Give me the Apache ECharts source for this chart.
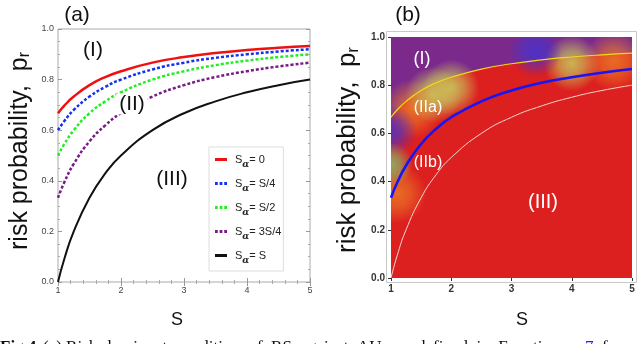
<!DOCTYPE html>
<html>
<head>
<meta charset="utf-8">
<script src="https://cdn.jsdelivr.net/npm/echarts@6/dist/echarts.min.js"></script>
<style>
  html, body { margin: 0; padding: 0; background: #fff; }
  #chart { width: 640px; height: 344px; }
</style>
</head>
<body>
<div id="chart"></div>
<script>
var sVals = [1, 1.1, 1.25, 1.5, 1.75, 2, 2.5, 3, 3.5, 4, 4.5, 5];
// risk probability p_r for each S_alpha
var prZero    = [0.667, 0.697, 0.733, 0.778, 0.810, 0.833, 0.867, 0.889, 0.905, 0.917, 0.926, 0.933];
var prQuarter = [0.600, 0.636, 0.680, 0.733, 0.771, 0.800, 0.840, 0.867, 0.886, 0.900, 0.911, 0.920];
var prHalf    = [0.500, 0.545, 0.600, 0.667, 0.714, 0.750, 0.800, 0.833, 0.857, 0.875, 0.889, 0.900];
var prThree   = [0.333, 0.394, 0.467, 0.556, 0.619, 0.667, 0.733, 0.778, 0.810, 0.833, 0.852, 0.867];
var prFull    = [0.000, 0.091, 0.200, 0.333, 0.429, 0.500, 0.600, 0.667, 0.714, 0.750, 0.778, 0.800];

var xTicks = ['1', '2', '3', '4', '5'];
var yTicks = ['0.0', '0.2', '0.4', '0.6', '0.8', '1.0'];

var legendNames = ['0', 'S/4', 'S/2', '3S/4', 'S'];

// soft colour patches of panel (b), [S, p_r]
var blobYellow = [[2.0, 0.79], [4.0, 0.89], [1.7, 0.76]];
var blobBlue   = [[3.4, 0.94], [1.0, 0.61]];
var blobGreen  = [[1.0, 0.47]];
var blobOrange = [[1.1, 0.35], [1.35, 0.7], [4.7, 0.9]];

function pairs(ys) {
    return sVals.map(function (s, i) { return [s, ys[i]]; });
}
function blobFill(c, a) {
    return {
        type: 'radial', x: 0.5, y: 0.5, r: 0.5,
        colorStops: [
            {offset: 0, color: 'rgba(' + c + ',' + a + ')'},
            {offset: 0.45, color: 'rgba(' + c + ',' + (a * 0.7) + ')'},
            {offset: 1, color: 'rgba(' + c + ',0)'}
        ]
    };
}
// blobs as a clipped custom series so they stay inside the plot
function blobSeries(name, data, c, a, r) {
    return {
        name: name, type: 'custom', xAxisIndex: 2, yAxisIndex: 2, data: data, clip: true, z: 2, silent: true,
        renderItem: function (params, api) {
            var p = api.coord([api.value(0), api.value(1)]);
            return {type: 'circle', shape: {cx: p[0], cy: p[1], r: r}, style: {fill: blobFill(c, a)}};
        }
    };
}
function xLabel(v) { return xTicks[Math.round(v) - 1]; }
function yLabel(v) { return yTicks[Math.round(v / 0.2)]; }

var chart = echarts.init(document.getElementById('chart'));

var axA = {
    min: 1, max: 5, interval: 1,
    axisLine: {show: false},
    axisTick: {inside: true, length: 4, lineStyle: {color: '#999'}},
    minorTick: {show: true, splitNumber: 5, length: 2, lineStyle: {color: '#aaa'}},
    splitLine: {show: false},
    axisLabel: {fontSize: 9, color: '#444', margin: 4, formatter: xLabel}
};
var ayA = {
    min: 0, max: 1, interval: 0.2,
    axisLine: {show: false},
    axisTick: {inside: true, length: 4, lineStyle: {color: '#999'}},
    minorTick: {show: true, splitNumber: 4, length: 2, lineStyle: {color: '#aaa'}},
    splitLine: {show: false},
    axisLabel: {fontSize: 9, color: '#444', margin: 4, formatter: yLabel}
};

var dashIcon = 'path://M0,0h3v3h-3zM5,0h3v3h-3zM10,0h3v3h-3z';

var option = {
    animation: false,
    textStyle: {fontFamily: 'Liberation Sans'},
    grid: [
        {left: 58, right: 330, top: 29, bottom: 62, show: true, borderColor: '#aaa', borderWidth: 1},
        {left: 391, right: 8, top: 37, bottom: 66, show: true, backgroundColor: '#dc1f1f', borderWidth: 0}
    ],
    xAxis: [
        echarts.util.merge({type: 'value', gridIndex: 0, position: 'bottom'}, axA, true),
        echarts.util.merge({type: 'value', gridIndex: 0, position: 'top'}, echarts.util.merge({axisLabel: {show: false}}, axA), true),
        {type: 'value', gridIndex: 1, min: 1, max: 5, interval: 1,
         axisLine: {show: false},
         axisTick: {length: 3, lineStyle: {color: '#333'}},
         splitLine: {show: false},
         axisLabel: {fontSize: 10, fontWeight: 'bold', color: '#333', margin: 6, formatter: xLabel}}
    ],
    yAxis: [
        echarts.util.merge({type: 'value', gridIndex: 0, position: 'left'}, ayA, true),
        echarts.util.merge({type: 'value', gridIndex: 0, position: 'right'}, echarts.util.merge({axisLabel: {show: false}}, ayA), true),
        {type: 'value', gridIndex: 1, min: 0, max: 1, interval: 0.2,
         axisLine: {show: false},
         axisTick: {length: 3, lineStyle: {color: '#333'}},
         splitLine: {show: false},
         axisLabel: {fontSize: 10, fontWeight: 'bold', color: '#333', margin: 6, formatter: yLabel}}
    ],
    legend: {
        left: 209, top: 147, orient: 'vertical',
        padding: [7, 2, 6, 6], itemGap: 9,
        itemWidth: 12, itemHeight: 3,
        borderColor: '#ddd', borderWidth: 1,
        data: [
            {name: '0', icon: 'rect'},
            {name: 'S/4', icon: dashIcon},
            {name: 'S/2', icon: dashIcon},
            {name: '3S/4', icon: dashIcon},
            {name: 'S', icon: 'rect'}
        ],
        formatter: function (n) { return '{s|S}{a|α}{s|= ' + n + '}'; },
        textStyle: {
            padding: [0, 0, 0, 3],
            rich: {
                s: {fontSize: 11, color: '#222', fontFamily: 'Liberation Sans'},
                a: {fontSize: 9, color: '#222', fontWeight: 'bold', fontStyle: 'italic', padding: [10, 0, 0, 0], fontFamily: 'DejaVu Serif'}
            }
        }
    },
    series: [
        {name: '0', type: 'line', xAxisIndex: 0, yAxisIndex: 0, data: pairs(prZero), smooth: true, symbol: 'none',
         color: '#ee1111', lineStyle: {width: 2.5}},
        {name: 'S/4', type: 'line', xAxisIndex: 0, yAxisIndex: 0, data: pairs(prQuarter), smooth: true, symbol: 'none',
         color: '#1530ee', lineStyle: {width: 2.5, type: [3, 2]}},
        {name: 'S/2', type: 'line', xAxisIndex: 0, yAxisIndex: 0, data: pairs(prHalf), smooth: true, symbol: 'none',
         color: '#22ee22', lineStyle: {width: 2.5, type: [3, 2]}},
        {name: '3S/4', type: 'line', xAxisIndex: 0, yAxisIndex: 0, data: pairs(prThree), smooth: true, symbol: 'none',
         color: '#7a1a86', lineStyle: {width: 2.5, type: [3, 2]}},
        {name: 'S', type: 'line', xAxisIndex: 0, yAxisIndex: 0, data: pairs(prFull), smooth: true, symbol: 'none',
         color: '#111', lineStyle: {width: 2}},

        // panel (b): purple region above the S_alpha = 0 boundary
        {name: 'regionI', type: 'line', xAxisIndex: 2, yAxisIndex: 2, data: pairs(prZero), smooth: true, symbol: 'none',
         lineStyle: {width: 0}, areaStyle: {origin: 'end', color: '#7b2a8c', opacity: 1}, z: 1},
        blobSeries('orange', blobOrange, '235,125,40', 0.8, 30),
        blobSeries('yellow', blobYellow, '200,195,90', 0.9, 28),
        blobSeries('blue', blobBlue, '70,50,205', 0.85, 26),
        blobSeries('green', blobGreen, '140,175,100', 0.95, 22),
        {name: 'yellowLine', type: 'line', xAxisIndex: 2, yAxisIndex: 2, data: pairs(prZero), smooth: true, symbol: 'none',
         color: '#f0d81a', lineStyle: {width: 1.2}, z: 3},
        {name: 'blueLine', type: 'line', xAxisIndex: 2, yAxisIndex: 2, data: pairs(prThree), smooth: true, symbol: 'none',
         color: '#1515f5', lineStyle: {width: 2.6}, z: 3},
        {name: 'whiteLine', type: 'line', xAxisIndex: 2, yAxisIndex: 2, data: pairs(prFull), smooth: true, symbol: 'none',
         color: '#f4d6d0', lineStyle: {width: 1}, z: 3}
    ],
    graphic: [
        {type: 'rect', shape: {x: 386.5, y: 31.5, width: 250, height: 251}, style: {fill: 'none', stroke: '#c8c8c8', lineWidth: 1}, z: 0},
        {type: 'text', x: 77, y: 15, style: {text: '(a)', fontSize: 21, fill: '#111', align: 'center', verticalAlign: 'middle'}},
        {type: 'text', x: 408, y: 15, style: {text: '(b)', fontSize: 21, fill: '#111', align: 'center', verticalAlign: 'middle'}},
        {type: 'text', x: 20, y: 151, rotation: Math.PI / 2,
         style: {text: '{m|risk probability,  p}{r|r}', align: 'center', verticalAlign: 'middle',
                 rich: {m: {fontSize: 25, fill: '#111'}, r: {fontSize: 16, fill: '#111', padding: [10, 0, 0, 0]}}}},
        {type: 'text', x: 348, y: 150, rotation: Math.PI / 2,
         style: {text: '{m|risk probability,  p}{r|r}', align: 'center', verticalAlign: 'middle',
                 rich: {m: {fontSize: 26, fill: '#111'}, r: {fontSize: 17, fill: '#111', padding: [10, 0, 0, 0]}}}},
        {type: 'text', x: 177, y: 320, style: {text: 'S', fontSize: 18, fill: '#111', align: 'center', verticalAlign: 'middle'}},
        {type: 'text', x: 522, y: 320, style: {text: 'S', fontSize: 18, fill: '#111', align: 'center', verticalAlign: 'middle'}},
        // region labels
        {type: 'text', x: 93, y: 50, style: {text: '(I)', fontSize: 21, fill: '#111', align: 'center', verticalAlign: 'middle'}, z: 10},
        {type: 'text', x: 132, y: 104, style: {text: '(II)', fontSize: 21, fill: '#111', align: 'center', verticalAlign: 'middle',
         backgroundColor: '#fff', padding: [0, 3]}, z: 10},
        {type: 'text', x: 172, y: 179, style: {text: '(III)', fontSize: 21, fill: '#111', align: 'center', verticalAlign: 'middle'}, z: 10},
        {type: 'text', x: 422, y: 59, style: {text: '(I)', fontSize: 18, fill: '#fff', align: 'center', verticalAlign: 'middle'}, z: 10},
        {type: 'text', x: 428, y: 108, style: {text: '(IIa)', fontSize: 16, fill: '#fff', align: 'center', verticalAlign: 'middle'}, z: 10},
        {type: 'text', x: 428, y: 163, style: {text: '(IIb)', fontSize: 16, fill: '#fff', align: 'center', verticalAlign: 'middle'}, z: 10},
        {type: 'text', x: 543, y: 202, style: {text: '(III)', fontSize: 20, fill: '#fff', align: 'center', verticalAlign: 'middle'}, z: 10},
        // caption, cut off by the bottom edge
        {type: 'text', x: 0, y: 339,
         style: {text: 'Fig 4.', fontSize: 17, fontWeight: 'bold', fontFamily: 'Liberation Serif', fill: '#111'}},
        {type: 'text', x: 43, y: 339,
         style: {text: '(a) Risk-dominant  condition  of  RS  against  AU,  as  defined  in  Equation',
                 fontSize: 17, fontFamily: 'Liberation Serif', fill: '#111'}},
        {type: 'text', x: 585, y: 339,
         style: {text: '{l|7}{t|, for}', rich: {
             t: {fontSize: 17, fontFamily: 'Liberation Serif', fill: '#111'},
             l: {fontSize: 17, fontFamily: 'Liberation Serif', fill: '#2222ee'}}}}
    ]
};

chart.setOption(option);
</script>
</body>
</html>
